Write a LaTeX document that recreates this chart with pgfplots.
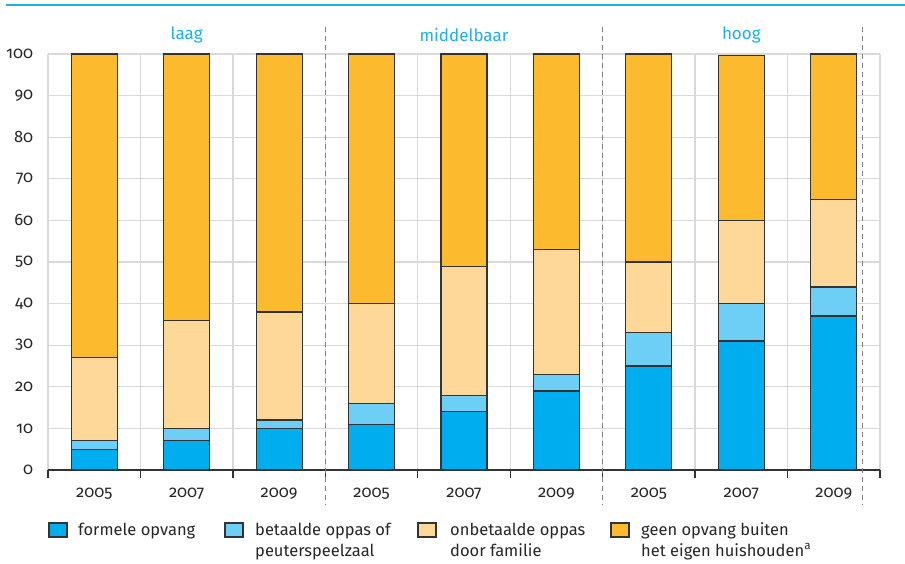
\documentclass[border=0pt]{standalone}
\usepackage{pgfplots}
\pgfplotsset{compat=1.18}
\usepackage{fontspec}
\setmainfont{Fira Sans}[Numbers=OldStyle]

\definecolor{cformele}{RGB}{0,174,239}
\definecolor{cbetaalde}{RGB}{109,207,246}
\definecolor{conbetaald}{RGB}{254,216,152}
\definecolor{cgeen}{RGB}{252,187,46}
\definecolor{cblue}{RGB}{30,174,232}
\definecolor{gridgray}{RGB}{217,217,217}
\definecolor{edge}{RGB}{51,51,51}
\definecolor{dashgray}{RGB}{130,130,130}

\begin{document}
\begin{tikzpicture}
\path[use as bounding box] (0pt,0pt) rectangle (905pt,563pt);

\begin{axis}[
at={(48pt,93pt)}, anchor=south west,
scale only axis, width=832pt, height=416pt,
ybar stacked, bar width=46pt,
xmin=-0.5, xmax=8.5, ymin=0, ymax=100,
clip=false,
axis x line*=bottom, axis y line*=left,
y axis line style={draw=none},
x axis line style={draw=edge, line width=1.3pt},
xtick={0,...,8},
xticklabels={2005,2007,2009,2005,2007,2009,2005,2007,2009},
minor xtick={-0.5,0.5,...,8.5},
xtick style={draw=none},
minor x tick style={draw=edge, line width=1.3pt},
minor tick length=8pt,
tick align=outside,
ytick={0,10,...,100},
ytick style={draw=none},
xminorgrids=true, ymajorgrids=true,
minor grid style={gridgray, line width=1.3pt},
major grid style={gridgray, line width=1.3pt},
/pgf/number format/assume math mode=true,
tick label style={font=\fontsize{16.5}{18}\selectfont, text=black!85},
xticklabel style={yshift=-10pt},
yticklabel style={xshift=-7pt},
]
\addplot[fill=cformele, draw=edge, line width=1.2pt] coordinates
{(0,5) (1,7) (2,10) (3,11) (4,14) (5,19) (6,25) (7,31) (8,37)};
\addplot[fill=cbetaalde, draw=edge, line width=1.2pt] coordinates
{(0,2) (1,3) (2,2) (3,5) (4,4) (5,4) (6,8) (7,9) (8,7)};
\addplot[fill=conbetaald, draw=edge, line width=1.2pt] coordinates
{(0,20) (1,26) (2,26) (3,24) (4,31) (5,30) (6,17) (7,20) (8,21)};
\addplot[fill=cgeen, draw=edge, line width=1.2pt] coordinates
{(0,73) (1,64) (2,62) (3,60) (4,51) (5,47) (6,50) (7,39.7) (8,35)};

\draw[dashgray, line width=1.1pt, dash pattern=on 5pt off 4pt]
  (axis cs:2.5,106.5) -- (axis cs:2.5,-8.5)
  (axis cs:5.5,106.5) -- (axis cs:5.5,-8.5)
  (axis cs:8.31,106.5) -- (axis cs:8.31,-8.5);
\node[text=cblue, font=\fontsize{17}{19}\selectfont] at (axis cs:1,104.6) {laag};
\node[text=cblue, font=\fontsize{17}{19}\selectfont] at (axis cs:4,104.6) {middelbaar};
\node[text=cblue, font=\fontsize{17}{19}\selectfont] at (axis cs:7,104.6) {hoog};
\end{axis}

\draw[cblue, line width=1.5pt] (6pt,558pt) -- (905pt,558pt);

% legend
\begin{scope}[every node/.style={anchor=base west, inner sep=0pt, text=black!85, font=\fontsize{16.5}{19}\selectfont}]
\filldraw[fill=cformele, draw=edge, line width=1.2pt] (49pt,26pt) rectangle (67pt,40pt);
\node at (78pt,28pt) {formele opvang};
\filldraw[fill=cbetaalde, draw=edge, line width=1.2pt] (225pt,26pt) rectangle (243pt,40pt);
\node at (255pt,28pt) {betaalde oppas of};
\node at (255pt,7pt) {peuterspeelzaal};
\filldraw[fill=conbetaald, draw=edge, line width=1.2pt] (418pt,26pt) rectangle (436pt,40pt);
\node at (450pt,28pt) {onbetaalde oppas};
\node at (450pt,7pt) {door familie};
\filldraw[fill=cgeen, draw=edge, line width=1.2pt] (611pt,26pt) rectangle (629pt,40pt);
\node at (641pt,28pt) {geen opvang buiten};
\node at (641pt,7pt) {het eigen huishouden\textsuperscript{a}};
\end{scope}
\end{tikzpicture}
\end{document}
